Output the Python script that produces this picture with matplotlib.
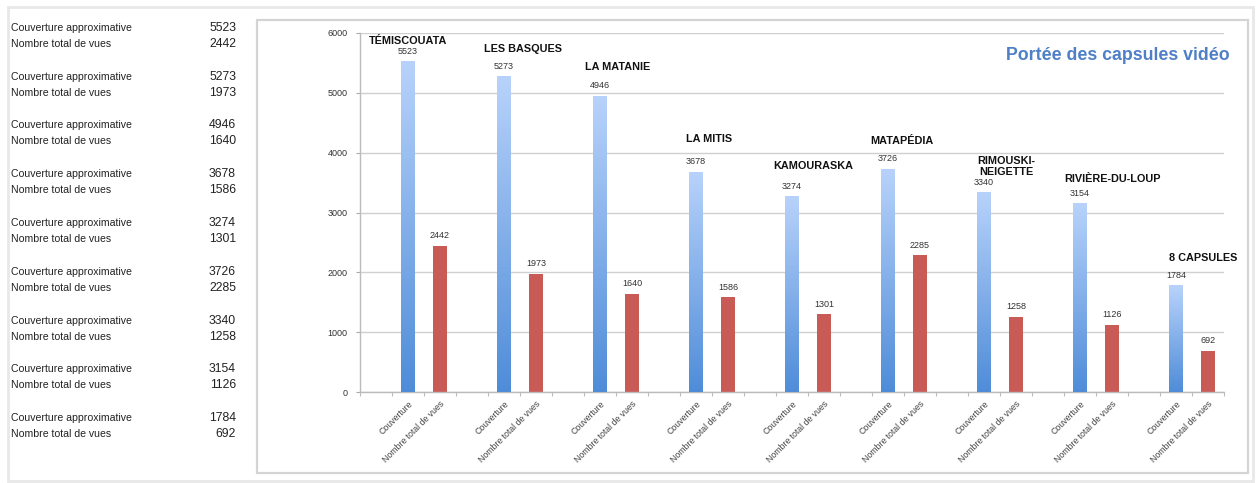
import numpy as np
import matplotlib.pyplot as plt
from matplotlib.patches import Rectangle
from matplotlib.colors import LinearSegmentedColormap

plt.rcParams['font.family'] = ['Liberation Sans', 'DejaVu Sans']

# ===== données =====
regions = ["TÉMISCOUATA", "LES BASQUES", "LA MATANIE", "LA MITIS", "KAMOURASKA",
           "MATAPÉDIA", "RIMOUSKI-\nNEIGETTE", "RIVIÈRE-DU-LOUP", "8 CAPSULES"]
couverture = [5523, 5273, 4946, 3678, 3274, 3726, 3340, 3154, 1784]
vues = [2442, 1973, 1640, 1586, 1301, 2285, 1258, 1126, 692]
cat_labels = ["", "Couverture", "Nombre total de vues"]
table_labels = ["Couverture approximative", "Nombre total de vues"]
title = "Portée des capsules vidéo"

# position des noms de région (x en catégories, y en unités de données)
region_pos = [(1.0, 5855), (4.6, 5720), (7.56, 5420), (10.4, 4220), (13.66, 3770),
              (16.44, 4190), (19.7, 3765), (23.02, 3555), (25.86, 2240)]

W, H = 1257, 483
fig = plt.figure(figsize=(W / 100, H / 100), dpi=100)
fig.patch.set_facecolor("white")

def fx(px):
    return px / W

def fy(py):
    return 1 - py / H

# ombre de la page
fig.add_artist(Rectangle((fx(8), fy(481)), fx(1253) - fx(8), fy(7) - fy(481),
                         transform=fig.transFigure, fill=False,
                         edgecolor="#e8e8e8", lw=2.0))
# cadre du graphique
fig.add_artist(Rectangle((fx(257), fy(473)), fx(1248) - fx(257), fy(20) - fy(473),
                         transform=fig.transFigure, fill=False,
                         edgecolor="#d4d4d4", lw=1.6))

# tableau de gauche
for i, (c, v) in enumerate(zip(couverture, vues)):
    y0 = 28 + i * 48.75
    for j, val in enumerate([c, v]):
        yy = y0 + j * 16
        fig.text(fx(11), fy(yy), table_labels[j], fontsize=7.6, color="#222222",
                 ha="left", va="center")
        fig.text(fx(236), fy(yy), str(val), fontsize=8.8, color="#222222",
                 ha="right", va="center")

# axes
ax = fig.add_axes([fx(360), fy(392.3), fx(1224) - fx(360), fy(32.7) - fy(392.3)])
n = len(regions)
x_blue = np.arange(n) * 3 + 1
x_red = np.arange(n) * 3 + 2
bw = 0.42

blue_bars = ax.bar(x_blue, couverture, width=bw, color="#7fa9e6", zorder=2)
red_bars = ax.bar(x_red, vues, width=bw, color="#c95b57", zorder=2)

# dégradé vertical sur les barres bleues
cmap = LinearSegmentedColormap.from_list("bl", ["#4f8cd8", "#b8d3fb"])
grad = np.linspace(0, 1, 256).reshape(-1, 1)
for b in blue_bars:
    x0, w, h = b.get_x(), b.get_width(), b.get_height()
    im = ax.imshow(grad, cmap=cmap, origin="lower", aspect="auto",
                   extent=(x0, x0 + w, 0, h), zorder=3)
    im.set_clip_path(b)

for b, val in list(zip(blue_bars, couverture)) + list(zip(red_bars, vues)):
    ax.annotate(str(val), (b.get_x() + b.get_width() / 2, val),
                xytext=(0, 4), textcoords="offset points", ha="center", va="bottom",
                fontsize=6.5, color="#333333", zorder=4)

for name, (px, py) in zip(regions, region_pos):
    ax.text(px, py, name, ha="center", va="center", fontsize=7.8,
            fontweight="bold", color="#111111", linespacing=1.2, zorder=4)

ax.set_xlim(-0.5, 3 * n - 0.5)
ax.set_ylim(0, 6000)
ax.set_yticks(range(0, 6001, 1000))
ax.tick_params(axis="y", labelsize=6.5, labelcolor="#333333", length=3,
               color="#aaaaaa", width=0.8, pad=6)
ax.yaxis.grid(True, color="#d0d0d0", lw=1.0, zorder=0)
ax.set_axisbelow(True)

ax.set_xticks(np.arange(3 * n))
ax.set_xticklabels(cat_labels * n, rotation=45, ha="right", va="top",
                   rotation_mode="anchor", fontsize=6.3, color="#444444")
ax.tick_params(axis="x", which="major", length=0, pad=5)
ax.set_xticks(np.arange(3 * n + 1) - 0.5, minor=True)
ax.tick_params(axis="x", which="minor", length=3, color="#bbbbbb", width=0.8)

for s in ["top", "right"]:
    ax.spines[s].set_visible(False)
for s in ["left", "bottom"]:
    ax.spines[s].set_color("#bbbbbb")
    ax.spines[s].set_linewidth(1.0)

fig.text(fx(1230), fy(55), title, ha="right", va="center", fontsize=12.8,
         fontweight="bold", color="#4f7fc6")

fig.savefig("out.png", dpi=100)
